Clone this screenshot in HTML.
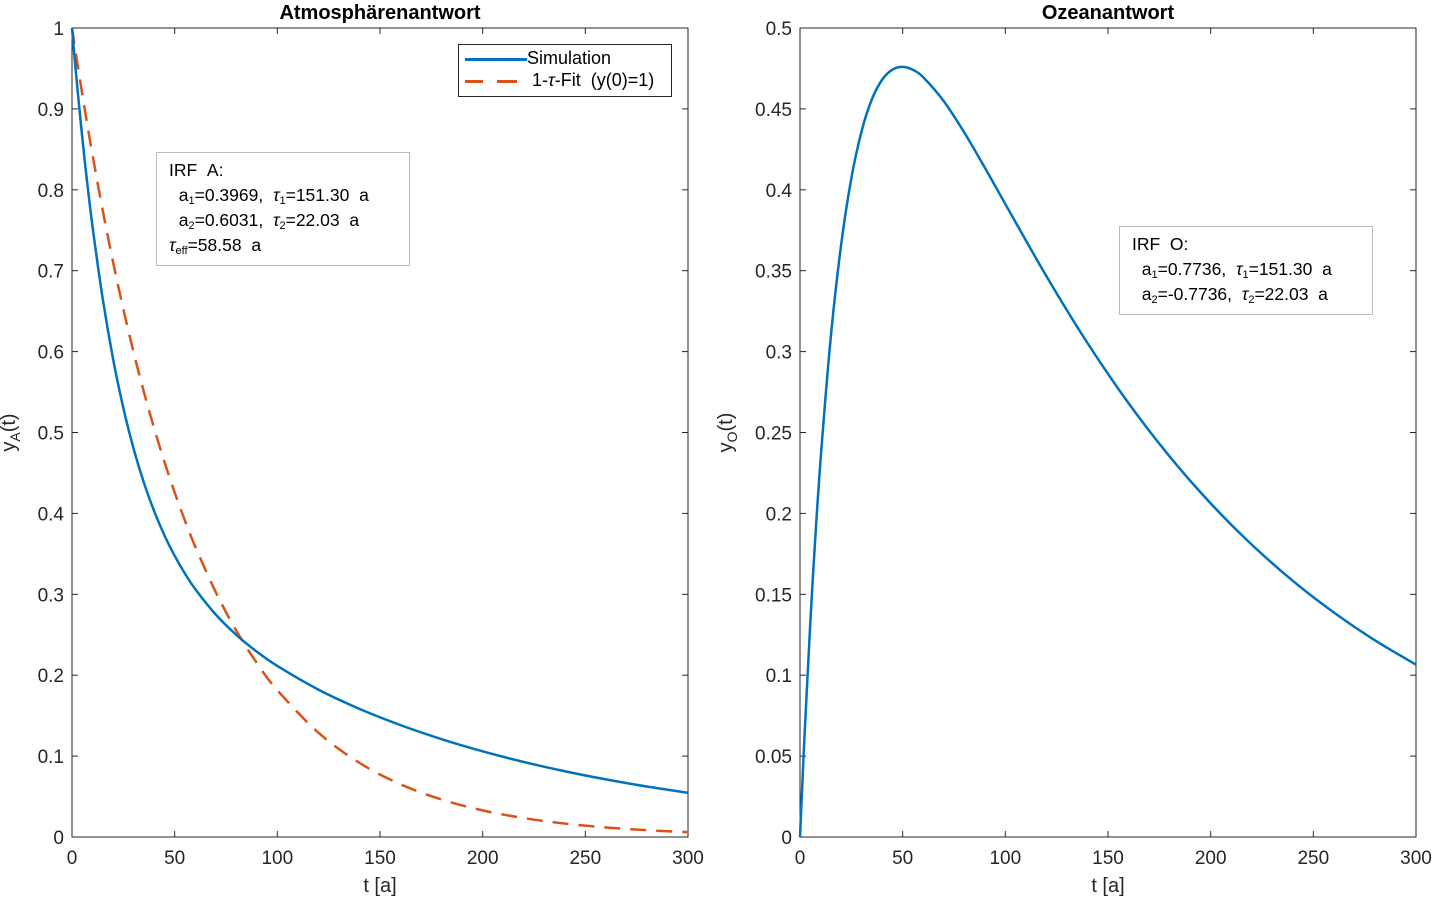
<!DOCTYPE html>
<html><head><meta charset="utf-8"><style>
body{margin:0;background:#fff;}
svg{display:block;font-family:"Liberation Sans",Arial,sans-serif;}
.sb{font-size:11px;vertical-align:-3px;line-height:0;}
</style></head><body>
<svg id="fig" width="1436" height="899" xmlns="http://www.w3.org/2000/svg"></svg>
<script>
const tVals=[0,2,5,7,10,15,20,25,30,35,40,45,50,55,60,70,80,90,100,120,140,160,180,200,220,240,260,280,300];
const simA=[1,.94245,.86465,.81788,.75456,.66472,.59103,.53033,.48004,.43807,.40284,.37302,.34755,.32563,.30656,.27504,.24988,.22909,.21138,.18217,.15838,.13828,.12095,.1059,.09275,.08125,.07118,.06237,.05464];
const fitA=[1,.96644,.91819,.88737,.84306,.77408,.71074,.65259,.59922,.55022,.50518,.46385,.42592,.39109,.35907,.30272,.25522,.21517,.18141,.12894,.09163,.06513,.04629,.0329,.02338,.01662,.01181,.00839,.00597];
const simO=[0,.05698,.13192,.17562,.23278,.30901,.36574,.40708,.43625,.45588,.46802,.47426,.47597,.47413,.46958,.45482,.43543,.41374,.39119,.34667,.30532,.26815,.23521,.20619,.18071,.15835,.13874,.12156,.10651];
const xTicks=[0,50,100,150,200,250,300];
const yTicksA=[0,0.1,0.2,0.3,0.4,0.5,0.6,0.7,0.8,0.9,1];
const yTicksO=[0,0.05,0.1,0.15,0.2,0.25,0.3,0.35,0.4,0.45,0.5];
const NS="http://www.w3.org/2000/svg";
const svg=document.getElementById('fig');
function el(tag,attrs,parent,text){const e=document.createElementNS(NS,tag);for(const k in attrs)e.setAttribute(k,attrs[k]);if(text!==undefined)e.textContent=text;(parent||svg).appendChild(e);return e;}
function axes(name,L,R,T,B,ymax,yTicks,title,ylOff,sub){
  const g=el('g',{});
  
  
  const sx=v=>L+(v/300)*(R-L), sy=v=>B-(v/ymax)*(B-T);
  el('rect',{x:L,y:T,width:R-L,height:B-T,fill:'#fff',stroke:'#262626','stroke-width':1},g);
  xTicks.forEach(v=>{const x=sx(v);
    el('line',{x1:x,y1:B,x2:x,y2:B-6,stroke:'#262626'},g);
    el('line',{x1:x,y1:T,x2:x,y2:T+6,stroke:'#262626'},g);
    const t=el('text',{x:x,y:B+27,'text-anchor':'middle','font-size':19,fill:'#262626'},g,String(v));
    
    
  });
  yTicks.forEach(v=>{const y=sy(v);
    el('line',{x1:L,y1:y,x2:L+6,y2:y,stroke:'#262626'},g);
    el('line',{x1:R,y1:y,x2:R-6,y2:y,stroke:'#262626'},g);
    const t=el('text',{x:L-8,y:y+7,'text-anchor':'end','font-size':19,fill:'#262626'},g,String(v));
    
    
  });
  const tt=el('text',{x:(L+R)/2,y:19,'text-anchor':'middle','font-size':20,'font-weight':'bold',fill:'#000'},g,title);
  
  
  const xl=el('text',{x:(L+R)/2,y:892,'text-anchor':'middle','font-size':20,fill:'#262626'},g,'t [a]');
  
  
  const yl=el('text',{x:0,y:0,'text-anchor':'middle','font-size':20,fill:'#262626',transform:`translate(${L-ylOff},${(T+B)/2}) rotate(-90)`},g);
  
  
  el('tspan',{},yl,'y');el('tspan',{'font-size':14,dy:5},yl,sub);el('tspan',{dy:-5},yl,'(t)');
  return {g,sx,sy};
}
function line(ax,ys,color,dash,name){
  const pts=tVals.map((t,i)=>[ax.sx(t),ax.sy(ys[i])]);
  let d='M'+pts[0][0]+','+pts[0][1];
  for(let i=0;i<pts.length-1;i++){const p0=pts[Math.max(i-1,0)],p1=pts[i],p2=pts[i+1],p3=pts[Math.min(i+2,pts.length-1)];
    d+=` C${p1[0]+(p2[0]-p0[0])/6},${p1[1]+(p2[1]-p0[1])/6} ${p2[0]-(p3[0]-p1[0])/6},${p2[1]-(p3[1]-p1[1])/6} ${p2[0]},${p2[1]}`;}
  const p=el('path',{d:d,fill:'none',stroke:color,'stroke-width':2.5,'stroke-dasharray':dash||'none'},ax.g);
  
  
}
const A=axes('atmosphere-axes',72,688,28,837,1,yTicksA,'Atmosphärenantwort',57,'A');
line(A,fitA,'#D95319','16,10','fit-line');
line(A,simA,'#0072BD',null,'simulation-line-a');
const O=axes('ocean-axes',800,1416,28,837,0.5,yTicksO,'Ozeanantwort',68,'O');
line(O,simO,'#0072BD',null,'simulation-line-o');
</script>
<div style="position:absolute;left:0;top:0;width:1436px;height:899px;pointer-events:none;font-family:'Liberation Sans',Arial,sans-serif;color:#000;">
  <div style="position:absolute;left:458px;top:44px;width:212px;height:51px;border:1.5px solid #262626;background:#fff;font-size:18px;">
    <div style="position:absolute;left:6px;top:3px;white-space:nowrap;"><span style="display:inline-block;width:62px;height:3px;background:#0072BD;vertical-align:middle;"></span>Simulation</div>
    <div style="position:absolute;left:6px;top:25px;white-space:nowrap;"><span style="display:inline-block;width:18px;height:3px;background:#D95319;vertical-align:middle;"></span><span style="display:inline-block;width:14px;"></span><span style="display:inline-block;width:20px;height:3px;background:#D95319;vertical-align:middle;"></span>&nbsp;&nbsp; 1-<i>τ</i>-Fit &nbsp;(y(0)=1)</div>
  </div>
  <div style="position:absolute;left:156px;top:152px;width:254px;height:114px;border:1px solid #bbb;background:#fff;font-size:17.5px;line-height:25px;padding:5px 0 0 12px;box-sizing:border-box;white-space:nowrap;">
    IRF &nbsp;A:<br>&nbsp;&nbsp;a<span class="sb">1</span>=0.3969, &nbsp;<i>τ</i><span class="sb">1</span>=151.30 &nbsp;a<br>&nbsp;&nbsp;a<span class="sb">2</span>=0.6031, &nbsp;<i>τ</i><span class="sb">2</span>=22.03 &nbsp;a<br><i>τ</i><span class="sb">eff</span>=58.58 &nbsp;a
  </div>
  <div style="position:absolute;left:1119px;top:226px;width:254px;height:89px;border:1px solid #bbb;background:#fff;font-size:17.5px;line-height:25px;padding:5px 0 0 12px;box-sizing:border-box;white-space:nowrap;">
    IRF &nbsp;O:<br>&nbsp;&nbsp;a<span class="sb">1</span>=0.7736, &nbsp;<i>τ</i><span class="sb">1</span>=151.30 &nbsp;a<br>&nbsp;&nbsp;a<span class="sb">2</span>=-0.7736, &nbsp;<i>τ</i><span class="sb">2</span>=22.03 &nbsp;a
  </div>
</div>
</body></html>
